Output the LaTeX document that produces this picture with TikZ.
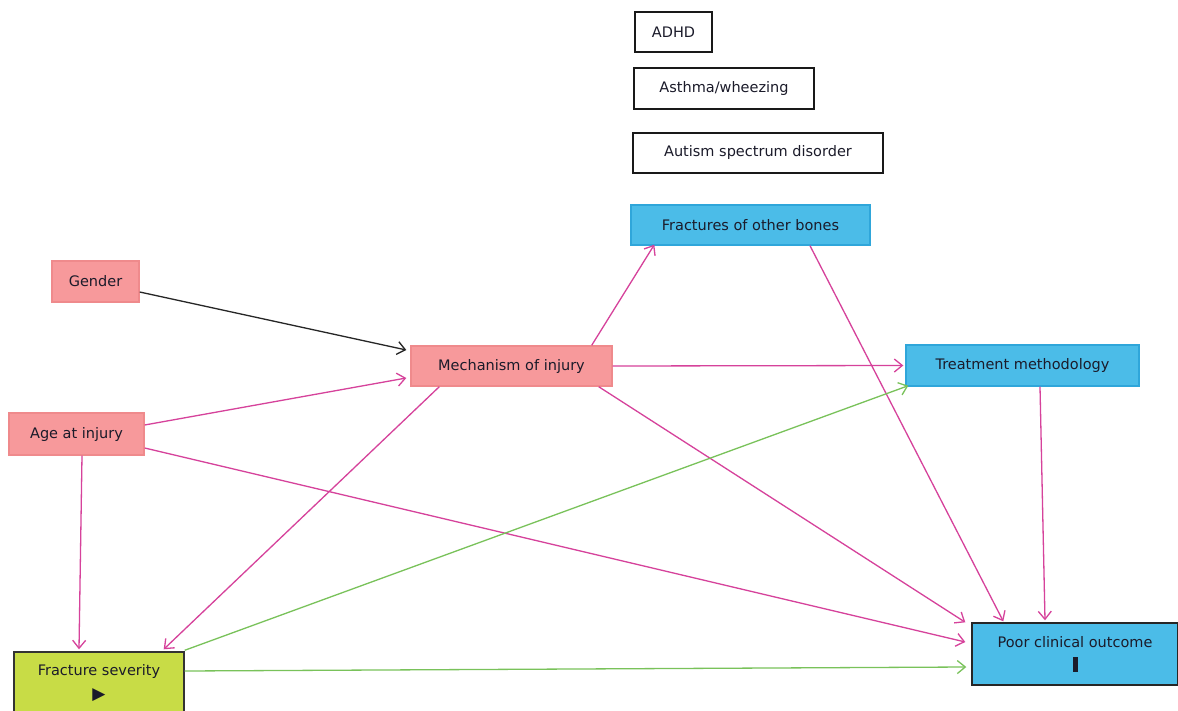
\documentclass[tikz,border=0pt]{standalone}
\usepackage{fontspec}
\setmainfont{DejaVu Sans}
\usetikzlibrary{arrows.meta,calc}
\definecolor{pinkfill}{HTML}{F7999B}
\definecolor{pinkline}{HTML}{EF8A8C}
\definecolor{bluefill}{HTML}{4BBCE8}
\definecolor{blueline}{HTML}{2FA6DA}
\definecolor{yfill}{HTML}{C8DC46}
\definecolor{edgemag}{HTML}{D6429B}
\definecolor{edgegreen}{HTML}{79C25A}
\definecolor{txt}{HTML}{1B1B2A}
\tikzset{
  box/.style={rectangle, inner sep=0pt, font=\fontsize{14.5}{24}\selectfont, text=txt, align=center, line width=1.4pt},
  plainbox/.style={box, draw=black!90, fill=white},
  pinkbox/.style={box, draw=pinkline, fill=pinkfill},
  bluebox/.style={box, draw=blueline, fill=bluefill},
  arr/.style={line width=1.3pt, -{Straight Barb[length=8pt,width=13pt]}},
  mag/.style={arr, draw=edgemag},
  grn/.style={arr, draw=edgegreen},
  blk/.style={arr, draw=black!85},
}
\begin{document}
\begin{tikzpicture}[x=1pt,y=-1pt]
\useasboundingbox[fill=white] (0,0) rectangle (1178,711);
% nodes
\node[plainbox, minimum width=77, minimum height=40] (adhd) at (673.5,32) {ADHD};
\node[plainbox, minimum width=180, minimum height=41] (asthma) at (724,88.5) {Asthma/wheezing};
\node[plainbox, minimum width=250, minimum height=40] (autism) at (758,153) {Autism spectrum disorder};
\node[bluebox, minimum width=239, minimum height=40] (fob) at (750.5,225) {Fractures of other bones};
\node[pinkbox, minimum width=87, minimum height=41] (gender) at (95.5,281.5) {Gender};
\node[pinkbox, minimum width=201, minimum height=40] (mech) at (511.5,366) {Mechanism of injury};
\node[bluebox, minimum width=233, minimum height=41] (treat) at (1022.5,365.5) {Treatment methodology};
\node[pinkbox, minimum width=135, minimum height=42] (age) at (76.5,434) {Age at injury};
\node[box, draw=black!80, fill=yfill, minimum width=170, minimum height=62] (fs) at (99,683) {Fracture severity\\{\fontsize{17}{17}\selectfont ▶}};
\node[box, draw=black!85, fill=bluefill, minimum width=206, minimum height=62] (poor) at (1075,654) {Poor clinical outcome\\\rule{5pt}{15pt}};
% edges
\draw[blk] ($(gender.east)+(0,10.5)$) -- ($(mech.west)+(-4,-16)$);
\draw[mag] ($(age.east)+(0,-9)$) -- ($(mech.west)+(-4,12)$);
\draw[mag] ($(age.east)+(0,14)$) -- ($(poor.west)+(-6,-12)$);
\draw[mag] ($(age.south)+(5.5,0)$) -- ($(fs.north)+(-20,-2)$);
\draw[mag] ($(mech.south west)+(29,0)$) -- ($(fs.north east)+(-21,-2)$);
\draw[mag] ($(mech.north east)+(-21,0)$) -- ($(fob.south west)+(24,-1)$);
\draw[mag] (mech.east) -- ($(treat.west)+(-2,0)$);
\draw[mag] ($(mech.south east)+(-14,0)$) -- ($(poor.north west)+(-6,0)$);
\draw[mag] ($(fob.south)+(59.5,0)$) -- ($(poor.north west)+(32,-1)$);
\draw[mag] ($(treat.south)+(17.5,0)$) -- ($(poor.north)+(-30,-2)$);
\draw[grn] ($(fs.north east)+(0,-1)$) -- ($(treat.south west)+(3,-1)$);
\draw[grn] ($(fs.east)+(0,-12)$) -- ($(poor.west)+(-5,13)$);
\end{tikzpicture}
\end{document}
